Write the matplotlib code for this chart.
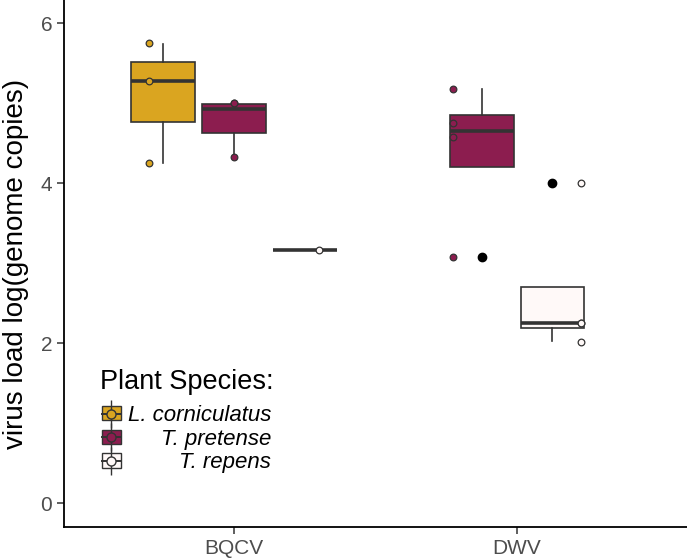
import matplotlib.pyplot as plt
from matplotlib.patches import Patch
from matplotlib.lines import Line2D

plt.rcParams['font.family'] = ['Liberation Sans', 'DejaVu Sans']

virus = ["BQCV", "DWV"]
species = ["L. corniculatus", "T. pretense", "T. repens"]
farben = ["#DAA520", "#8C1D4F", "#FFF9F8"]

# Boxplot-Kennzahlen
box_virus = [0, 0, 0, 1, 1]
box_art = [0, 1, 2, 1, 2]
whislo = [4.25, 4.33, 3.16, 4.20, 2.02]
q1 = [4.76, 4.63, 3.16, 4.20, 2.19]
med = [5.28, 4.93, 3.16, 4.65, 2.25]
q3 = [5.52, 4.99, 3.16, 4.85, 2.70]
whishi = [5.74, 4.99, 3.16, 5.18, 2.70]
ausreisser = [[], [], [], [3.08], [4.00]]

# Einzelwerte (Punkte)
pkt_virus = [0, 0, 0, 0, 0, 0, 0, 1, 1, 1, 1, 1, 1, 1, 1]
pkt_art = [0, 0, 0, 1, 1, 1, 2, 1, 1, 1, 1, 2, 2, 2, 2]
pkt_wert = [5.75, 5.28, 4.25, 5.00, 5.00, 4.33, 3.16,
            5.18, 4.75, 4.58, 3.08, 4.00, 2.25, 2.25, 2.01]


def arten_in(v):
    return sorted(set(a for vv, a in zip(box_virus, box_art) if vv == v))


fig = plt.figure(figsize=(6.87, 5.58), dpi=100)
ax = fig.add_axes([64 / 687, 31 / 558, 1 - 64 / 687, 1 - 31 / 558])

stats, pos = [], []
for i in range(len(med)):
    arten = arten_in(box_virus[i])
    n = len(arten)
    k = arten.index(box_art[i])
    pos.append(1 + box_virus[i] + (k - (n - 1) / 2) * 0.25)
    stats.append(dict(whislo=whislo[i], q1=q1[i], med=med[i], q3=q3[i],
                      whishi=whishi[i], fliers=ausreisser[i]))

bp = ax.bxp(stats, positions=pos, widths=0.225, patch_artist=True,
            showcaps=False,
            boxprops=dict(edgecolor="#333333", linewidth=1.2),
            medianprops=dict(color="#333333", linewidth=2.6),
            whiskerprops=dict(color="#333333", linewidth=1.2),
            flierprops=dict(marker="o", markerfacecolor="black",
                            markeredgecolor="black", markersize=6))
for patch, a in zip(bp["boxes"], box_art):
    patch.set_facecolor(farben[a])

for v, a, w in zip(pkt_virus, pkt_art, pkt_wert):
    arten = arten_in(v)
    n = len(arten)
    k = arten.index(a)
    x = 1 + v + (k - (n - 1) / 2) * 0.9 / n
    ax.plot(x, w, "o", ms=4.8, mfc=farben[a], mec="#333333", mew=0.9,
            zorder=5)

ax.set_xlim(0.4, 2.6)
ax.set_ylim(-0.3, 6.29)
ax.set_xticks([1, 2])
ax.set_xticklabels(virus)
ax.set_yticks([0, 2, 4, 6])
ax.tick_params(labelsize=15, labelcolor="#4D4D4D", color="#333333",
               length=5, width=1.1)
ax.set_ylabel("virus load log(genome copies)", fontsize=20, labelpad=8)
for s in ["top", "right"]:
    ax.spines[s].set_visible(False)
for s in ["left", "bottom"]:
    ax.spines[s].set_linewidth(1.3)

# Legende: Titel extra, Beschriftungen rechtsbündig
fig.text(100 / 687, 1 - 382 / 558, "Plant Species:", fontsize=19.5,
         va="center", ha="left")

handles = []
for c in farben:
    handles.append((Patch(facecolor=c, edgecolor="#333333", linewidth=1),
                    Line2D([], [], color="#333333", marker="|", ms=20,
                           ls="none", mew=1),
                    Line2D([], [], color="#333333", lw=1.4),
                    Line2D([], [], marker="o", ls="none", mfc=c,
                           mec="#333333", ms=6.5)))
leg = fig.legend(handles, species, loc="upper left",
                 bbox_to_anchor=(102 / 687, 1 - 405 / 558),
                 frameon=False, prop=dict(size=16, style="italic"),
                 handlelength=0.85, handleheight=0.6, handletextpad=0.3,
                 labelspacing=0.12, borderpad=0, borderaxespad=0)

fig.canvas.draw()
texte = leg.get_texts()
rechts = max(t.get_window_extent().x1 for t in texte)
for t in texte:
    bb = t.get_window_extent()
    fig.text(rechts / fig.bbox.width, bb.y0 / fig.bbox.height, t.get_text(),
             ha="right", va="bottom", fontsize=16, style="italic")
    t.set_visible(False)

fig.savefig("out.png", dpi=100)
